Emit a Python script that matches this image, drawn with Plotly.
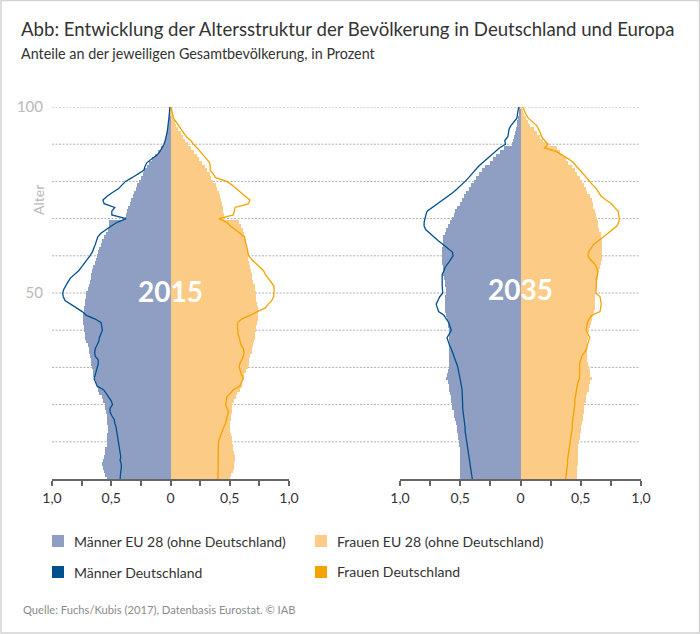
import plotly.graph_objects as go

ages = list(range(101))

# share of total population per single year of age, 0 to 100
men_eu_2015 = [
    .54, .55, .56, .57, .58, .57, .56, .55, .55, .54,
    .54, .54, .535, .53, .53, .535, .54, .54, .545, .55,
    .55, .57, .58, .60, .61, .62, .63, .64, .65, .655,
    .66, .67, .675, .68, .685, .69, .70, .71, .72, .725,
    .73, .73, .735, .735, .735, .73, .73, .725, .72, .715,
    .71, .70, .69, .68, .675, .67, .66, .65, .64, .63,
    .62, .61, .60, .59, .575, .565, .545, .53, .52, .515,
    .385, .375, .365, .355, .345, .33, .32, .31, .295, .28,
    .265, .25, .235, .22, .20, .18, .155, .13, .105, .08,
    .055, .045, .035, .028, .022, .017, .013, .01, .006, .004, .002]
men_de_2015 = [
    .425, .425, .42, .415, .415, .425, .42, .425, .43, .43,
    .435, .44, .445, .45, .46, .47, .475, .495, .51, .51,
    .49, .50, .52, .54, .565, .62, .63, .645, .635, .625,
    .615, .61, .61, .635, .64, .635, .62, .605, .60, .585,
    .575, .58, .585, .635, .71, .745, .795, .845, .89, .905,
    .91, .90, .885, .865, .845, .81, .775, .75, .725, .70,
    .68, .66, .645, .635, .625, .615, .59, .55, .50, .45,
    .375, .495, .495, .47, .56, .57, .535, .49, .44, .41,
    .38, .325, .27, .225, .215, .20, .16, .115, .09, .07,
    .055, .045, .035, .03, .025, .02, .015, .012, .01, .008, .005]
women_eu_2015 = [
    .505, .51, .525, .535, .54, .545, .545, .54, .53, .525,
    .52, .515, .51, .505, .505, .505, .51, .51, .515, .52,
    .52, .535, .55, .565, .585, .60, .605, .61, .62, .635,
    .65, .66, .665, .675, .685, .69, .70, .705, .71, .715,
    .72, .725, .73, .735, .735, .735, .735, .73, .725, .72,
    .72, .715, .71, .695, .69, .685, .68, .67, .66, .655,
    .65, .65, .645, .64, .635, .63, .62, .61, .595, .58,
    .455, .45, .445, .44, .435, .43, .42, .41, .395, .38,
    .36, .345, .33, .31, .29, .265, .24, .22, .195, .17,
    .15, .125, .105, .085, .065, .05, .035, .025, .015, .008, .002]
women_de_2015 = [
    .40, .40, .40, .40, .405, .405, .405, .405, .405, .405,
    .405, .415, .425, .435, .45, .465, .47, .48, .49, .48,
    .465, .47, .475, .505, .53, .585, .60, .615, .60, .59,
    .58, .585, .60, .615, .62, .615, .595, .59, .58, .57,
    .565, .565, .565, .60, .67, .73, .80, .825, .855, .87,
    .875, .875, .87, .845, .825, .80, .785, .75, .715, .685,
    .66, .655, .65, .64, .63, .625, .59, .545, .505, .475,
    .41, .53, .54, .545, .66, .67, .63, .595, .56, .52,
    .475, .38, .36, .335, .335, .33, .305, .28, .25, .225,
    .195, .17, .135, .11, .09, .07, .05, .025, .018, .012, .005]

men_eu_2035 = [
    .50, .50, .50, .50, .50, .50, .50, .505, .505, .51,
    .51, .515, .52, .525, .53, .535, .54, .55, .555, .565,
    .57, .575, .58, .585, .59, .595, .605, .615, .61, .60,
    .595, .59, .59, .59, .59, .59, .59, .59, .595, .595,
    .595, .60, .605, .61, .62, .63, .63, .63, .63, .625,
    .62, .62, .625, .63, .635, .64, .64, .645, .65, .65,
    .65, .655, .65, .645, .64, .64, .63, .62, .60, .585,
    .57, .555, .54, .525, .505, .485, .47, .45, .43, .41,
    .39, .37, .345, .32, .295, .25, .225, .20, .17, .14,
    .07, .06, .05, .045, .04, .03, .025, .02, .015, .01, .005]
men_de_2035 = [
    .40, .405, .41, .415, .415, .42, .425, .43, .435, .44,
    .445, .45, .455, .46, .46, .465, .47, .475, .475, .48,
    .48, .48, .48, .485, .485, .49, .495, .505, .51, .515,
    .52, .53, .54, .55, .56, .575, .59, .60, .61, .59,
    .575, .585, .595, .615, .635, .68, .69, .70, .685, .67,
    .645, .65, .65, .65, .65, .65, .635, .625, .60, .58,
    .56, .565, .60, .64, .68, .72, .75, .785, .80, .80,
    .795, .785, .775, .73, .69, .64, .595, .56, .525, .49,
    .46, .43, .405, .375, .35, .315, .28, .24, .205, .175,
    .125, .13, .105, .10, .095, .08, .055, .03, .025, .02, .015]
women_eu_2035 = [
    .47, .47, .47, .47, .475, .475, .475, .48, .48, .48,
    .485, .49, .49, .50, .50, .51, .515, .52, .525, .525,
    .53, .54, .545, .555, .565, .57, .58, .59, .58, .575,
    .57, .56, .555, .55, .55, .55, .555, .555, .56, .56,
    .565, .575, .585, .595, .605, .61, .615, .62, .62, .62,
    .62, .625, .63, .635, .64, .645, .65, .66, .67, .675,
    .68, .68, .68, .675, .675, .67, .665, .655, .645, .64,
    .635, .625, .615, .605, .60, .59, .575, .555, .54, .525,
    .51, .49, .47, .45, .43, .395, .375, .35, .33, .30,
    .22, .19, .165, .135, .115, .08, .065, .045, .03, .02, .005]
women_de_2035 = [
    .375, .38, .385, .39, .39, .39, .395, .40, .405, .41,
    .41, .415, .42, .425, .43, .43, .435, .44, .445, .445,
    .45, .45, .455, .46, .46, .465, .475, .49, .49, .485,
    .485, .49, .50, .51, .53, .55, .555, .565, .575, .56,
    .545, .55, .555, .57, .59, .66, .665, .67, .665, .66,
    .625, .63, .63, .63, .63, .64, .64, .63, .61, .58,
    .56, .565, .585, .605, .645, .685, .72, .755, .80, .815,
    .82, .815, .81, .78, .755, .71, .67, .65, .63, .60,
    .575, .55, .525, .495, .465, .44, .40, .345, .30, .20,
    .23, .20, .175, .165, .15, .135, .10, .065, .045, .03, .02]

x_ticks = [-1, -.75, -.5, -.25, 0, .25, .5, .75, 1]
x_labels = ['1,0', '', '0,5', '', '0', '', '0,5', '', '1,0']
y_ticks = [0, 10, 20, 30, 40, 50, 60, 70, 80, 90, 100]
y_labels = ['', '', '', '', '', '50', '', '', '', '', '100']

FONT = 'Lato'
MEN_LIGHT = '#8f9fc3'
WOMEN_LIGHT = '#fccb85'
MEN_DARK = '#00508f'
WOMEN_DARK = '#f5a300'
W, H = 700, 634
LEFT, RIGHT, TOP, BOTTOM = 52, 289, 107, 479


def px(v):
    return v / W


def py(v):
    return 1 - v / H


fig = go.Figure()

panels = [
    ('x', 'y', men_eu_2015, women_eu_2015, men_de_2015, women_de_2015),
    ('x2', 'y2', men_eu_2035, women_eu_2035, men_de_2035, women_de_2035),
]
for xa, ya, men_eu, women_eu, men_de, women_de in panels:
    fig.add_trace(go.Bar(x=[-v for v in men_eu], y=ages, orientation='h', width=1,
                         marker={'color': MEN_LIGHT, 'line': {'width': 0}}, xaxis=xa, yaxis=ya))
    fig.add_trace(go.Bar(x=women_eu, y=ages, orientation='h', width=1,
                         marker={'color': WOMEN_LIGHT, 'line': {'width': 0}}, xaxis=xa, yaxis=ya))
    fig.add_trace(go.Scatter(x=[-v for v in men_de], y=ages, mode='lines',
                             line={'color': MEN_DARK, 'width': 1.3}, xaxis=xa, yaxis=ya))
    fig.add_trace(go.Scatter(x=women_de, y=ages, mode='lines',
                             line={'color': WOMEN_DARK, 'width': 1.3}, xaxis=xa, yaxis=ya))

shapes = []
# dotted age lines run through both panels
for age in y_ticks[1:]:
    shapes.append(dict(type='line', xref='paper', yref='y', x0=px(52), x1=px(640), y0=age, y1=age,
                       layer='below', line={'color': '#b0b0b0', 'width': 1, 'dash': '2px,1.5px'}))
# frame
shapes.append(dict(type='rect', xref='paper', yref='paper', x0=px(1), x1=px(699.5), y0=py(633), y1=py(0.5),
                   line={'color': '#d4d4d4', 'width': 1.5}, layer='below'))
# legend swatches
for x0, y0, colour in [(52, 535, MEN_LIGHT), (315, 535, WOMEN_LIGHT), (52, 566, MEN_DARK), (315, 566, WOMEN_DARK)]:
    shapes.append(dict(type='rect', xref='paper', yref='paper', x0=px(x0), x1=px(x0 + 12),
                       y0=py(y0), y1=py(y0 + 12), fillcolor=colour, line={'width': 0}))

annotations = []


def note(text, x, y, size, colour='#333333', **kw):
    annotations.append(dict(text=text, x=(x - LEFT) / (RIGHT - LEFT), y=(BOTTOM - y) / (BOTTOM - TOP),
                            xref='x domain', yref='y domain', showarrow=False,
                            xanchor=kw.pop('xanchor', 'left'), yanchor='middle',
                            font={'family': FONT, 'size': size, 'color': colour}, **kw))


note('Abb: Entwicklung der Altersstruktur der Bevölkerung in Deutschland und Europa', 19, 29, 18.6)
note('Anteile an der jeweiligen Gesamtbevölkerung, in Prozent', 19, 53, 14.35)
note('Männer EU 28 (ohne Deutschland)', 72, 541, 14)
note('Frauen EU 28 (ohne Deutschland)', 335, 541, 14)
note('Männer Deutschland', 72, 572, 14)
note('Frauen Deutschland', 335, 571, 14)
note('Quelle: Fuchs/Kubis (2017), Datenbasis Eurostat. © IAB', 21, 610, 11.2, colour='#8c8c8c')
note('Alter', 38, 200, 14, colour='#b9b9b9', textangle=-90, xanchor='center')
note('<b>2015</b>', 170, 291, 28, colour='white', xanchor='center')
note('<b>2035</b>', 520, 289, 28, colour='white', xanchor='center')

axis_x = dict(range=[-1, 1], tickvals=x_ticks, ticktext=x_labels, ticks='outside', ticklen=5, tickwidth=1.5,
              tickcolor='#666666', showline=True, linecolor='#666666', linewidth=2, showgrid=False,
              zeroline=False, automargin=False, tickfont={'family': FONT, 'size': 14, 'color': '#333333'})
axis_y = dict(range=[0, 100], showgrid=False, zeroline=False, showline=False, automargin=False)

fig.update_layout(
    width=W, height=H, margin={'l': 0, 'r': 0, 't': 0, 'b': 0},
    autosize=False, showlegend=False, barmode='overlay', bargap=0,
    paper_bgcolor='white', plot_bgcolor='rgba(0,0,0,0)',
    shapes=shapes, annotations=annotations,
    xaxis=dict(axis_x, domain=[px(LEFT), px(RIGHT)], anchor='y'),
    xaxis2=dict(axis_x, domain=[px(400), px(641)], anchor='y2'),
    yaxis=dict(axis_y, domain=[py(BOTTOM), py(TOP)], anchor='x', tickvals=y_ticks, ticktext=y_labels,
               ticks='outside', ticklen=5, tickcolor='rgba(0,0,0,0)',
               tickfont={'family': FONT, 'size': 15, 'color': '#b9b9b9'}),
    yaxis2=dict(axis_y, domain=[py(BOTTOM), py(TOP)], anchor='x2', showticklabels=False),
)

fig.write_html("out.html", config={'displayModeBar': False}, post_script="document.body.style.margin='0'")
